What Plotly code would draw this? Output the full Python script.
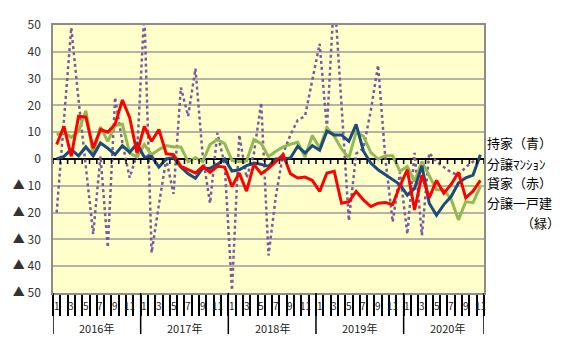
import plotly.graph_objects as go

# ---- data (Jan 2016 .. Nov 2020, 59 months) ----
years = [2016, 2017, 2018, 2019, 2020]
months_per_year = [12, 12, 12, 12, 11]
month_tick_labels = ["1", "3", "5", "7", "9", "11"]

mochiie = [0, 1, 3.5, 1.2, 4.5, 1.2, 6, 4, 1.6, 5,
           2.5, 5.7, 0.7, 1, -3, 0, 0.5, -3, -5.5, -7.2,
           -3.4, -3.5, -2, 0, -4.5, -4, -2.5, -1.5, -2, -2.75,
           0, 0, 0.4, 4.75, 2.25, 5, 3.25, 10.4, 9, 9,
           6.6, 12.9, 2.9, -1.5, -4, -5.9, -7.75, -9.5, -13.5, -11,
           -2.5, -16.5, -21, -17, -14, -9, -7, -6, 1.6]

mansion = [-20, 14, 49, 22, -3, -28, 1, -33, 23, 6,
           -7, 2, 55, -35, -17, 0, -13, 26.7, 16, 33.7,
           1, -16.5, 9.7, -2, -49, 9, -7, 2, 21, -36,
           -14, 2, 9, 14.5, 16, 29, 43, 11.5, 62, 20,
           -23, 2, 4, 18, 35, 0, -23.5, -5, -28, 2.25,
           -28.5, 2.25, -1, -3, -5, -6, -3, -1, 0]

kashiya = [5.4, 12.2, 1, 16, 15.6, 4, 11, 10, 13, 22,
           15.4, 2.2, 12.2, 6.6, 11, 2, 1.6, -2.75, -4, -5.25,
           -2.75, -5, -2.75, -3, -10.25, -5.25, -12, -2, -5.5, -3.5,
           -1, 1.6, -5.5, -7.1, -6.75, -8, -12.1, -5.25, -4.6, -16.5,
           -15.9, -12.1, -15.25, -17.75, -16.5, -16.25, -17, -10, -4, -19,
           -6, -14.5, -8, -12.75, -9.5, -5, -14.5, -12, -8]

ikkodate = [9, 10, 8, 10.4, 18, 1.6, 12, 6.6, 12.5, 13,
            2.2, 0.7, 5.4, 1.6, 3.5, 5, 4.5, 4.5, -1, 0.5,
            -1, 5.4, 7.3, 5.75, -0.5, -1, -0.7, 7.3, 5.75, 0.9,
            2.9, 4.5, 5.5, 6.25, 0.75, 8.75, 4.1, 11.6, 8.5, 3.75,
            0.4, 10, 8.5, 2.5, 0, 1.25, 1.25, -4.6, -2.75, -8.4,
            -0.9, -6.5, -11.5, -11.5, -15, -22.7, -15.9, -16.3, -10.25]

y_ticks = [50, 40, 30, 20, 10, 0, -10, -20, -30, -40, -50]
y_ticktext = ["50", "40", "30", "20", "10", "0", "▲ 10", "▲ 20", "▲ 30", "▲ 40", "▲ 50"]

series_names = ["持家（青）", "分譲ﾏﾝｼｮﾝ", "貸家（赤）", "分譲一戸建"]
label_pos = [6.1, -1.8, -8.9, -16.4]

# ---- build ----
n = sum(months_per_year)
x = list(range(n))
FONT = "Noto Sans CJK JP, sans-serif"

fig = go.Figure()
fig.add_trace(go.Scatter(x=x, y=mansion, mode="lines", name=series_names[1],
                         line=dict(color="#7A5C9E", width=2.5, dash="dot")))
fig.add_trace(go.Scatter(x=x, y=ikkodate, mode="lines", name=series_names[3],
                         line=dict(color="#92B955", width=3)))
fig.add_trace(go.Scatter(x=x, y=mochiie, mode="lines", name=series_names[0],
                         line=dict(color="#1F4A7C", width=3)))
fig.add_trace(go.Scatter(x=x, y=kashiya, mode="lines", name=series_names[2],
                         line=dict(color="#FF0000", width=3)))

shapes = []
# small ticks on the zero line at month boundaries
for b in range(n + 1):
    shapes.append(dict(type="line", xref="x", yref="y", ysizemode="pixel", yanchor=0,
                       x0=b - 0.5, x1=b - 0.5, y0=0, y1=-5,
                       line=dict(color="black", width=1.5)))
# year separators
start = 0
bounds = [0]
for m in months_per_year:
    start += m
    bounds.append(start)
for b in bounds:
    shapes.append(dict(type="line", xref="x", yref="paper", ysizemode="pixel", yanchor=0,
                       x0=b - 0.5, x1=b - 0.5, y0=0, y1=-41,
                       line=dict(color="black", width=1.5)))

annotations = []
idx = 0
for yr, m in zip(years, months_per_year):
    for k in range(0, m, 2):
        annotations.append(dict(x=idx + k, y=0, xref="x", yref="paper", yanchor="top",
                                yshift=-3, text=month_tick_labels[k // 2], showarrow=False,
                                font=dict(size=10, color="#222", family=FONT)))
    annotations.append(dict(x=idx + 5.5, y=0, xref="x",
                            yref="paper", yanchor="top", yshift=-25, text=f"{yr}年",
                            showarrow=False, font=dict(size=11, color="#222", family=FONT)))
    idx += m

for name, yp in zip(series_names, label_pos):
    annotations.append(dict(x=1, y=yp, xref="paper", yref="y", xanchor="left", xshift=1,
                            text=name, showarrow=False,
                            font=dict(size=13, color="black", family=FONT)))
annotations.append(dict(x=1, y=-23.8, xref="paper", yref="y", xanchor="left", xshift=35,
                        text="（緑）", showarrow=False,
                        font=dict(size=13, color="black", family=FONT)))

fig.update_layout(
    width=571, height=357,
    margin=dict(l=53, r=87, t=25, b=64),
    paper_bgcolor="white",
    plot_bgcolor="#FFFFCC",
    showlegend=False,
    shapes=shapes,
    annotations=annotations,
    xaxis=dict(range=[-0.5, n - 0.5], showgrid=False, zeroline=False,
               tickvals=[b - 0.5 for b in range(n + 1)], ticks="outside", ticklen=21,
               tickwidth=1.5, tickcolor="black", showticklabels=False,
               showline=True, linecolor="#8C8C8C", linewidth=1.5, mirror=True),
    yaxis=dict(range=[-50, 50], tickvals=y_ticks, ticktext=y_ticktext,
               showgrid=True, gridcolor="#B4B4A4", gridwidth=1.5,
               zeroline=True, zerolinecolor="black", zerolinewidth=2,
               ticks="", ticklabelstandoff=8,
               tickfont=dict(size=12, color="#333", family=FONT),
               showline=True, linecolor="#8C8C8C", linewidth=1.5, mirror=True),
)

fig.write_html("out.html", config={"displayModeBar": False},
               post_script="document.body.style.margin='0';document.body.style.overflow='hidden';")
